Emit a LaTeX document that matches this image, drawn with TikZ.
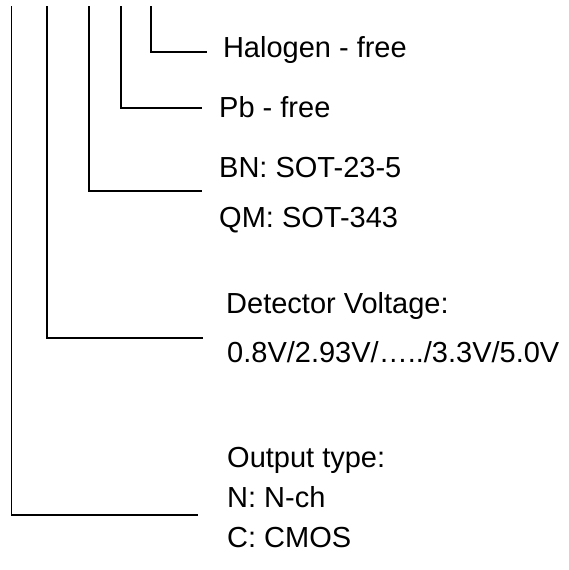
\documentclass[tikz,border=0pt]{standalone}
\usepackage{fontspec}
\setmainfont{Liberation Sans}
\begin{document}
\begin{tikzpicture}[x=1pt,y=-1pt,
  lbl/.style={anchor=base west,inner sep=0pt,font=\fontsize{29}{34}\selectfont},
  lead/.style={line width=1.6pt,line join=miter}]
\useasboundingbox (0,0) rectangle (568,570);
% leader coordinates
\coordinate (t5) at (151,6);  \coordinate (c5) at (151,52);  \coordinate (e5) at (207,52);
\coordinate (t4) at (121,6);  \coordinate (c4) at (121,108); \coordinate (e4) at (202,108);
\coordinate (t3) at (89,6);   \coordinate (c3) at (89,191);  \coordinate (e3) at (202,191);
\coordinate (t2) at (47,6);   \coordinate (c2) at (47,338);  \coordinate (e2) at (203,338);
\coordinate (t1) at (11.5,6); \coordinate (c1) at (11.5,515); \coordinate (e1) at (198,515);
% labels
\node[lbl] (hal) at (222.8,57) {Halogen - free};
\node[lbl] (pb)  at (219,117) {Pb - free};
\node[lbl] (bn)  at (219,177) {BN: SOT-23-5};
\node[lbl] (qm)  at (219,227) {QM: SOT-343};
\node[lbl] (dv)  at (226,313) {Detector Voltage:};
\node[lbl] (vv)  at (227,362) {0.8V/2.93V/…../3.3V/5.0V};
\node[lbl] (ot)  at (227,467) {Output type:};
\node[lbl] (nc)  at (227,507) {N: N-ch};
\node[lbl] (cm)  at (227,547) {C: CMOS};
% leaders
\draw[lead] (t5) -- (c5) -- (e5);
\draw[lead] (t4) -- (c4) -- (e4);
\draw[lead] (t3) -- (c3) -- (e3);
\draw[lead] (t2) -- (c2) -- (e2);
\draw[lead] (t1) -- (c1) -- (e1);
\end{tikzpicture}
\end{document}
